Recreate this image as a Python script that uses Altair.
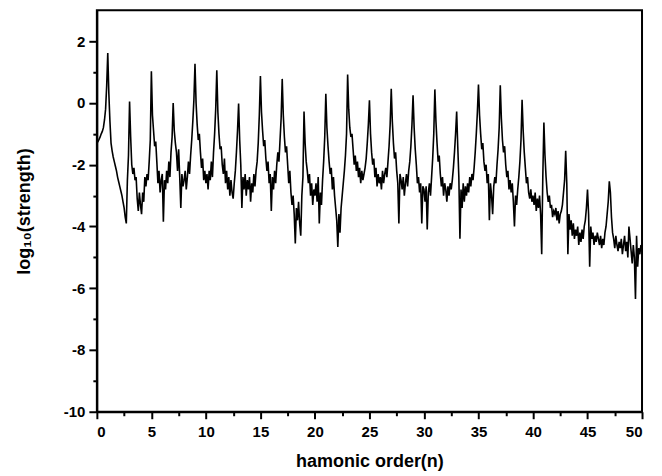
import altair as alt
import pandas as pd

# harmonic-order sampling grid (step 0.1 from 0 to 50)
order_step = 0.1
n_points = 501

# log10(strength), one row per harmonic unit [k, k+1)
strength_rows = [
    [-1.30, -1.25, -1.18, -1.10, -1.00, -0.92, -0.80, -0.55, -0.20, 0.55],   # 0
    [1.62, 0.30, -0.60, -1.30, -1.55, -1.75, -1.90, -2.05, -2.20, -2.40],    # 1
    [-2.55, -2.70, -2.85, -3.00, -3.20, -3.40, -3.70, -3.90, -2.50, -1.70],  # 2
    [0.05, -1.10, -2.00, -2.30, -2.10, -2.50, -2.40, -3.10, -3.50, -2.90],   # 3
    [-3.30, -3.60, -2.90, -3.20, -2.40, -2.70, -2.30, -2.50, -1.90, -1.20],  # 4
    [1.03, -0.40, -0.90, -1.40, -1.25, -1.90, -2.60, -2.20, -2.90, -2.50],   # 5
    [-2.30, -3.85, -2.50, -2.80, -2.20, -2.60, -1.90, -2.40, -1.60, -1.10],  # 6
    [0.00, -0.90, -1.30, -1.60, -2.20, -1.50, -2.40, -3.40, -2.30, -2.70],   # 7
    [-2.50, -2.20, -2.80, -2.40, -1.90, -2.30, -1.70, -1.20, -0.60, 0.10],   # 8
    [1.27, 0.00, -0.70, -1.20, -1.00, -1.60, -2.10, -1.80, -2.50, -2.20],    # 9
    [-2.60, -2.30, -2.80, -2.20, -2.50, -1.90, -2.40, -1.60, -1.00, -0.20],  # 10
    [1.06, -0.30, -1.00, -1.50, -1.40, -2.00, -2.30, -1.80, -2.60, -2.20],   # 11
    [-2.80, -2.40, -3.00, -2.50, -2.90, -3.10, -2.60, -2.20, -1.60, -0.90],  # 12
    [-0.02, -1.20, -2.00, -3.40, -2.40, -2.80, -2.30, -3.00, -2.50, -2.80],  # 13
    [-2.40, -3.20, -2.60, -2.90, -2.30, -2.70, -2.20, -1.90, -1.30, -0.40],  # 14
    [0.87, -0.30, -0.90, -1.40, -1.20, -1.80, -2.20, -1.90, -2.60, -2.30],   # 15
    [-3.50, -2.40, -2.80, -2.20, -2.60, -2.00, -1.60, -1.90, -1.20, -0.50],  # 16
    [0.78, -0.40, -1.10, -1.60, -1.40, -2.00, -2.60, -2.20, -2.90, -3.30],   # 17
    [-3.00, -3.60, -4.55, -3.40, -3.80, -3.20, -3.90, -4.30, -3.00, -2.40],  # 18
    [-0.28, -1.30, -1.90, -2.20, -2.60, -2.30, -3.00, -2.60, -3.30, -2.80],  # 19
    [-3.00, -2.60, -3.20, -2.40, -3.90, -2.90, -3.30, -2.50, -1.90, -1.10],  # 20
    [0.30, -0.80, -1.40, -1.90, -2.30, -2.10, -2.80, -2.40, -3.00, -3.40],   # 21
    [-3.80, -4.66, -3.60, -4.20, -3.40, -3.00, -2.60, -2.20, -1.70, -1.00],  # 22
    [0.92, -0.20, -0.80, -1.10, -1.00, -1.50, -2.00, -1.70, -2.20, -1.90],   # 23
    [-2.40, -2.10, -2.60, -2.20, -2.50, -2.30, -2.10, -1.80, -1.30, -0.70],  # 24
    [0.09, -1.00, -1.60, -2.00, -1.80, -2.40, -2.10, -2.70, -2.30, -2.60],   # 25
    [-2.40, -2.80, -2.20, -2.60, -2.30, -2.10, -2.40, -1.90, -1.40, -0.70],  # 26
    [0.46, -0.60, -1.30, -1.80, -1.60, -2.20, -2.60, -3.90, -2.30, -2.50],   # 27
    [-2.80, -2.40, -3.00, -2.60, -2.30, -2.70, -2.20, -1.90, -1.40, -0.70],  # 28
    [0.25, -0.80, -1.50, -2.00, -2.60, -2.40, -2.90, -2.60, -3.90, -2.70],   # 29
    [-2.80, -3.20, -2.70, -4.10, -2.90, -2.60, -3.00, -2.40, -1.80, -1.00],  # 30
    [0.44, -0.60, -1.30, -1.90, -1.70, -2.30, -2.70, -2.40, -3.00, -2.60],   # 31
    [-2.80, -3.20, -2.70, -3.00, -2.60, -2.80, -2.50, -2.10, -1.60, -1.00],  # 32
    [-0.28, -1.40, -2.40, -4.40, -2.80, -3.40, -2.60, -3.20, -2.70, -3.00],  # 33
    [-2.60, -2.90, -2.40, -2.70, -2.30, -2.50, -2.10, -1.60, -1.00, -0.30],  # 34
    [0.60, -0.40, -1.00, -1.50, -1.30, -1.90, -2.20, -2.00, -2.60, -2.30],   # 35
    [-3.80, -2.60, -3.00, -3.60, -2.70, -2.40, -2.60, -2.00, -1.50, -0.80],  # 36
    [0.57, -0.50, -1.20, -1.60, -1.40, -2.00, -2.40, -2.20, -2.80, -2.50],   # 37
    [-2.90, -2.60, -3.20, -4.00, -3.00, -3.30, -2.80, -2.40, -1.90, -1.20],  # 38
    [0.10, -0.90, -1.60, -2.10, -2.60, -2.40, -2.90, -3.10, -2.80, -3.20],   # 39
    [-3.00, -3.30, -2.90, -3.50, -3.10, -3.40, -3.00, -3.60, -4.90, -2.40],  # 40
    [-0.63, -1.70, -2.40, -2.90, -3.20, -3.00, -3.40, -3.30, -3.70, -3.50],  # 41
    [-3.60, -3.40, -3.80, -3.50, -3.90, -3.60, -3.50, -3.30, -2.90, -2.50],  # 42
    [-1.55, -2.60, -4.90, -3.60, -4.10, -3.80, -4.30, -3.90, -4.40, -4.10],  # 43
    [-4.30, -4.00, -4.60, -4.20, -4.50, -4.10, -4.40, -4.00, -3.80, -3.40],  # 44
    [-2.80, -3.60, -5.30, -4.00, -4.40, -4.20, -4.60, -4.30, -4.50, -4.20],  # 45
    [-4.40, -4.60, -4.30, -4.70, -4.40, -4.60, -4.20, -4.00, -3.60, -3.20],  # 46
    [-2.54, -2.90, -3.70, -4.20, -4.40, -4.70, -4.30, -4.60, -4.80, -4.50],  # 47
    [-4.70, -4.40, -4.90, -4.60, -4.30, -4.80, -4.50, -5.00, -4.00, -4.40],  # 48
    [-4.80, -5.20, -4.60, -5.00, -6.35, -4.30, -5.30, -4.70, -4.90, -4.60],  # 49
    [-4.70],                                                                  # 50
]

x_ticks = [i * 2.5 for i in range(21)]
y_ticks = list(range(-10, 3))

strength = [v for row in strength_rows for v in row]
order = [round(i * order_step, 1) for i in range(n_points)]

df = pd.DataFrame({"n": order, "logS": strength})

FONT = "Liberation Sans"

chart = (
    alt.Chart(df)
    .mark_line(color="black", strokeWidth=1.6)
    .encode(
        x=alt.X(
            "n:Q",
            scale=alt.Scale(domain=[0, 50], nice=False, zero=False),
            axis=alt.Axis(
                title="hamonic order(n)",
                values=x_ticks,
                labelExpr="datum.value % 5 == 0 ? toString(datum.value) : ''",
                tickSize={"condition": {"test": "datum.value % 5 == 0", "value": 7}, "value": 4},
                grid=False,
                labelPadding=6,
                titlePadding=13,
            ),
        ),
        y=alt.Y(
            "logS:Q",
            scale=alt.Scale(domain=[-10, 3], nice=False, zero=False),
            axis=alt.Axis(
                title="log₁₀(strength)",
                values=y_ticks,
                labelExpr="datum.value % 2 == 0 ? toString(datum.value) : ''",
                tickSize={"condition": {"test": "datum.value % 2 == 0", "value": 8}, "value": 4},
                grid=False,
                labelPadding=4,
                titlePadding=30,
            ),
        ),
    )
    .properties(
        width=546,
        height=402,
        autosize=alt.AutoSizeParams(type="none"),
        padding={"left": 89, "top": 2, "right": 12, "bottom": 60},
        background="white",
    )
    .configure_view(stroke="black", strokeWidth=2)
    .configure_axis(
        domainColor="black",
        domainWidth=2,
        tickColor="black",
        tickWidth=2,
        labelFont=FONT,
        labelFontSize=15,
        labelFontWeight="bold",
        labelColor="black",
        titleFont=FONT,
        titleFontSize=18,
        titleFontWeight="bold",
        titleColor="black",
    )
)

chart.save("out.html", embed_options={"renderer": "svg", "actions": False})
